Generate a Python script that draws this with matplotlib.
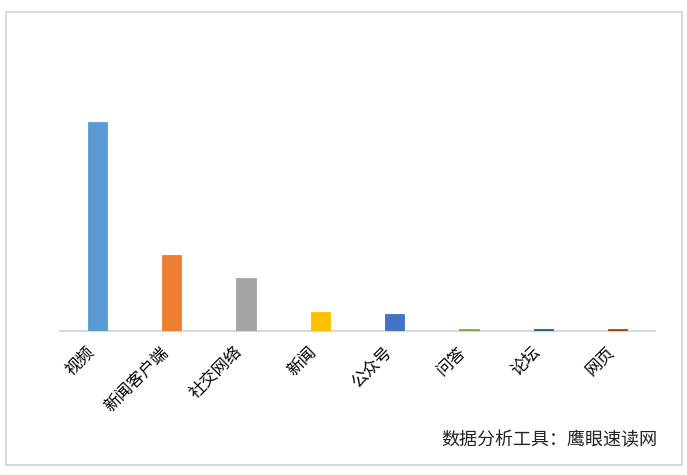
import matplotlib
matplotlib.use('Agg')
import matplotlib.pyplot as plt
from matplotlib.patches import Rectangle

plt.rcParams['font.family'] = ['Noto Sans CJK SC', 'DejaVu Sans']

# 数据
categories = ['视频', '新闻客户端', '社交网络', '新闻', '公众号', '问答', '论坛', '网页']
values = [209, 76, 53, 19, 17, 1.5, 1.5, 1.5]
colors = ['#5B9BD5', '#ED7D31', '#A5A5A5', '#FFC000', '#4472C4', '#70AD47', '#255E91', '#9E480E']

W, H = 687, 475
fig = plt.figure(figsize=(W / 100, H / 100), dpi=100)

# 外框
fig.patches.append(Rectangle((6 / W, 1 - 465 / H), 676 / W, 453 / H,
                             transform=fig.transFigure, fill=False,
                             edgecolor='#d9d9d9', linewidth=1.5))

ax = fig.add_axes([60 / W, 1 - 331 / H, 595 / W, 300 / H])
x = range(len(categories))
ax.bar(x, values, width=0.26, color=colors, edgecolor=colors, linewidth=0.6,
       zorder=3, bottom=0.5)
ax.set_xlim(-0.5, len(categories) - 0.5)
ax.set_ylim(0, 300)

for s in ['top', 'right', 'left']:
    ax.spines[s].set_visible(False)
ax.spines['bottom'].set_color('#d9d9d9')
ax.spines['bottom'].set_linewidth(1.5)
ax.set_yticks([])
ax.set_xticks(list(x))
ax.set_xticklabels(categories, rotation=45, ha='right', va='top', fontsize=12)
ax.tick_params(axis='x', length=0, pad=9)

fig.text(657 / W, 1 - 440 / H, '数据分析工具：鹰眼速读网', ha='right', va='center',
         fontsize=13, color='#222222')

fig.savefig('out.png', dpi=100)
